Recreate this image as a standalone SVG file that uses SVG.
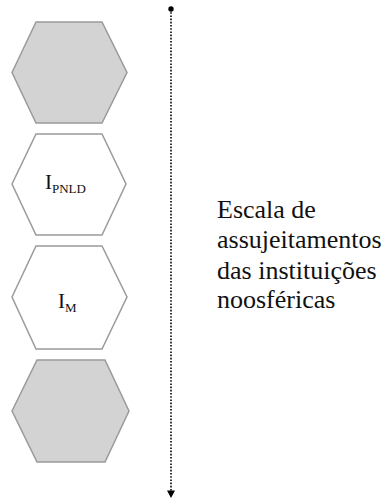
<svg xmlns="http://www.w3.org/2000/svg" width="387" height="501" viewBox="0 0 387 501">
<style>
.hex{stroke:#9a9a9a;stroke-width:1.5;stroke-linejoin:miter}
.gray{fill:#d3d3d3}
.white{fill:#ffffff}
.t{fill:#111}
.lbl{font-size:26px}
.big{font-size:21px}
.sub{font-size:13px}
</style>
<defs>
<marker id="dot" markerWidth="6" markerHeight="6" refX="3" refY="3" markerUnits="userSpaceOnUse">
<circle cx="3" cy="3" r="2.7" fill="#000"/>
</marker>
</defs>
<rect width="387" height="501" fill="#fff"/>
<g id="hex1"><polygon class="hex gray" points="12,72.5 36,22 102,22 127,72.5 102,123 36,123"/></g>
<g id="hex2"><polygon class="hex white" points="12,184 36,134 102,134 126,184 102,235 36,235"/>
<text class="t big" font-family="'Liberation Serif','DejaVu Serif','Times New Roman',serif" x="45" y="189">I<tspan class="sub" dy="4">PNLD</tspan></text></g>
<g id="hex3"><polygon class="hex white" points="12,297 36,246 102,246 127,297 102,349 36,349"/>
<text class="t big" font-family="'Liberation Serif','DejaVu Serif','Times New Roman',serif" x="58" y="308">I<tspan class="sub" dy="4" font-size="15px">M</tspan></text></g>
<g id="hex4"><polygon class="hex gray" points="12,411 37,360 105,360 129,411 105,462 37,462"/></g>
<g id="connectors">
<line x1="171" y1="9" x2="171" y2="491" stroke="#000" stroke-width="1.6" stroke-dasharray="1.6,1.6" marker-start="url(#dot)"/>
<path d="M167,490.5 L175,490.5 L171,498 Z" fill="#000"/>
</g>
<g id="label" font-family="'Liberation Serif','DejaVu Serif','Times New Roman',serif">
<text class="t lbl" x="217" y="218">Escala de</text>
<text class="t lbl" x="217" y="248">assujeitamentos</text>
<text class="t lbl" x="217" y="279">das instituições</text>
<text class="t lbl" x="217" y="308">noosféricas</text>
</g>
</svg>
